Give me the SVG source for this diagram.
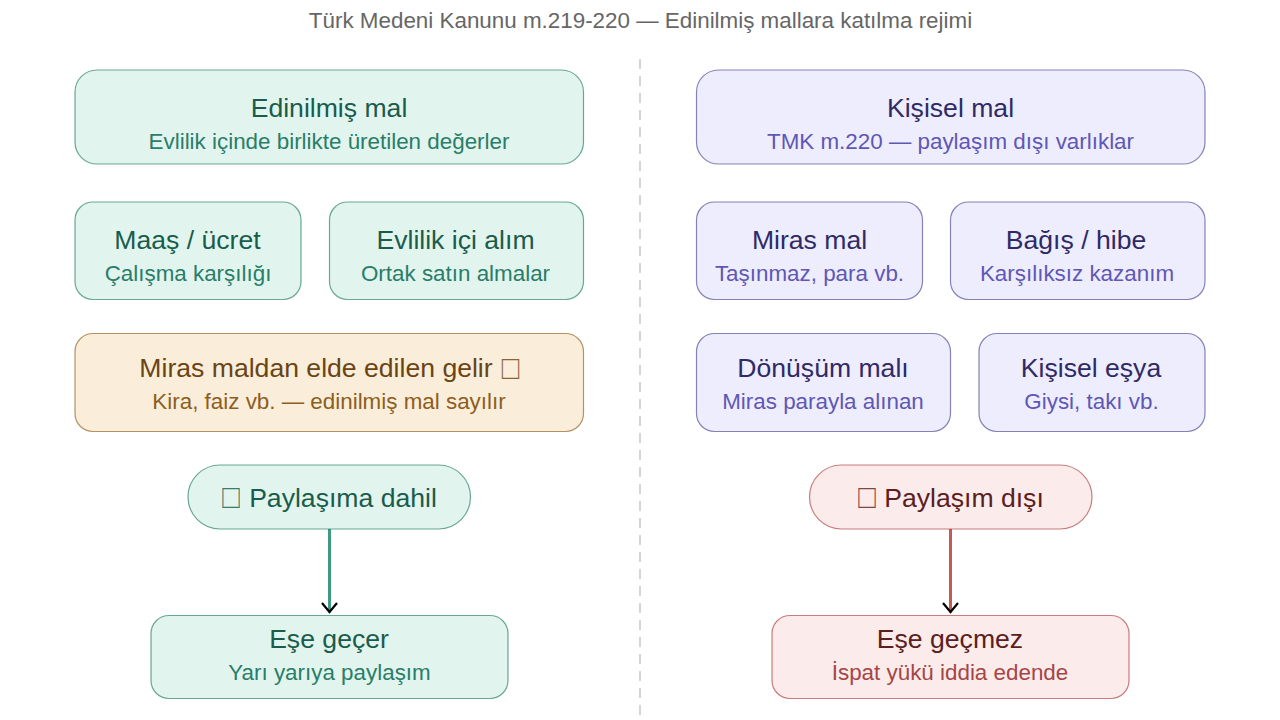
<svg xmlns="http://www.w3.org/2000/svg" width="1280" height="720" viewBox="0 0 1280 720">
<style>
text{font-family:"Liberation Sans",Arial,sans-serif;text-anchor:middle}
.t{font-size:26.6px}.s{font-size:22.4px}
.box{font-size:29px;opacity:.8}
.g rect{fill:#e1f5ee;stroke:#0f6e56}.g .t{fill:#1a5c4c}.g .s{fill:#2a7d68}
.p rect{fill:#eeedfe;stroke:#3c3489}.p .t{fill:#2f2a66}.p .s{fill:#5f57b5}
.a rect{fill:#faeeda;stroke:#854f0b}.a .t{fill:#6b4415}.a .s{fill:#8d5e1e}
.r rect{fill:#fcebeb;stroke:#a32d2d}.r .t{fill:#5a2020}.r .s{fill:#a54646}
rect{stroke-width:1.2;stroke-opacity:.6}
</style>
<defs>
<marker id="arr" markerWidth="14" markerHeight="18" refX="10.500" refY="9" orient="auto" markerUnits="userSpaceOnUse"><path d="M1 1.500L10 9L1 16.500" fill="none" stroke="#000" stroke-width="2.200"/></marker>
</defs>
<rect width="1280" height="720" fill="#fff"/>
<text x="640.500" y="28" font-size="22.400" fill="#666">Türk Medeni Kanunu m.219-220 — Edinilmiş mallara katılma rejimi</text>
<line x1="640" y1="59" x2="640" y2="720" stroke="#c8c8c6" stroke-width="1.500" stroke-dasharray="10 7"/>
<g id="connectors">
<line x1="329.500" y1="529" x2="329.500" y2="612.500" stroke="#3f9a83" stroke-width="3" marker-end="url(#arr)"/>
<line x1="950.500" y1="529" x2="950.500" y2="612.500" stroke="#c25a5a" stroke-width="3" marker-end="url(#arr)"/>
</g>
<g id="n1" class="g"><rect x="75" y="70" width="508.500" height="94" rx="22"/><text class="t" x="329" y="117">Edinilmiş mal</text><text class="s" x="329" y="149">Evlilik içinde birlikte üretilen değerler</text></g>
<g id="n2" class="g"><rect x="75" y="202" width="226" height="97.500" rx="18"/><text class="t" x="187.500" y="249">Maaş / ücret</text><text class="s" x="188" y="281">Çalışma karşılığı</text></g>
<g id="n3" class="g"><rect x="329.500" y="202" width="254" height="97.500" rx="18"/><text class="t" x="455.500" y="249">Evlilik içi alım</text><text class="s" x="455.500" y="281">Ortak satın almalar</text></g>
<g id="n4" class="a"><rect x="75" y="333.500" width="508.500" height="98" rx="18"/><text class="t" x="316" y="377">Miras maldan elde edilen gelir</text><text class="t box" transform="translate(510.500 379) scale(1 1.150)">□</text><text class="s" x="329" y="409">Kira, faiz vb. — edinilmiş mal sayılır</text></g>
<g id="n5" class="g"><rect x="188" y="465" width="282.500" height="64" rx="32"/><text class="t box" transform="translate(231 508) scale(1 1.150)">□</text><text class="t" x="343" y="507">Paylaşıma dahil</text></g>
<g id="n6" class="g"><rect x="151" y="615.500" width="357" height="83" rx="18"/><text class="t" x="329" y="648">Eşe geçer</text><text class="s" x="329.500" y="680">Yarı yarıya paylaşım</text></g>
<g id="n7" class="p"><rect x="696.500" y="70" width="508.500" height="94" rx="22"/><text class="t" x="950.500" y="117">Kişisel mal</text><text class="s" x="950.500" y="149">TMK m.220 — paylaşım dışı varlıklar</text></g>
<g id="n8" class="p"><rect x="696.500" y="202" width="226" height="97.500" rx="18"/><text class="t" x="809.500" y="249">Miras mal</text><text class="s" x="809.500" y="281">Taşınmaz, para vb.</text></g>
<g id="n9" class="p"><rect x="950.500" y="202" width="254.500" height="97.500" rx="18"/><text class="t" x="1076" y="249">Bağış / hibe</text><text class="s" x="1077" y="281">Karşılıksız kazanım</text></g>
<g id="n10" class="p"><rect x="696.500" y="333.500" width="254" height="98" rx="18"/><text class="t" x="823" y="377">Dönüşüm malı</text><text class="s" x="823" y="409">Miras parayla alınan</text></g>
<g id="n11" class="p"><rect x="979" y="333.500" width="226" height="98" rx="18"/><text class="t" x="1091" y="377">Kişisel eşya</text><text class="s" x="1091.500" y="409">Giysi, takı vb.</text></g>
<g id="n12" class="r"><rect x="809.500" y="465" width="282.500" height="64" rx="32"/><text class="t box" transform="translate(867 508) scale(1 1.150)">□</text><text class="t" x="964" y="507">Paylaşım dışı</text></g>
<g id="n13" class="r"><rect x="772" y="615.500" width="357" height="83" rx="18"/><text class="t" x="950" y="648">Eşe geçmez</text><text class="s" x="950" y="680">İspat yükü iddia edende</text></g>
</svg>
